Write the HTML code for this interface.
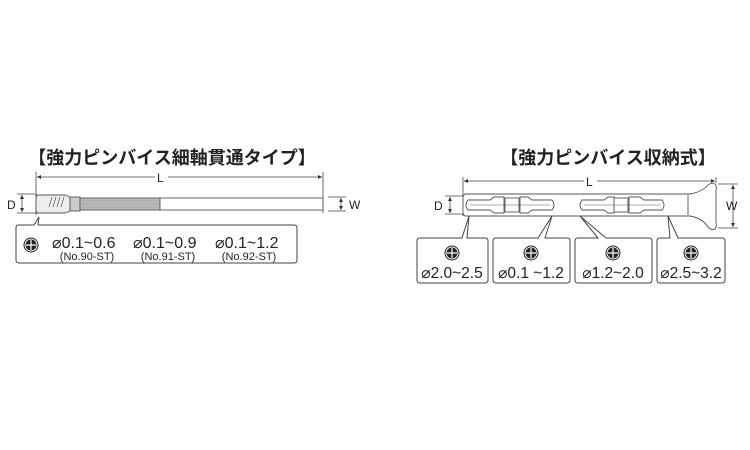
<!DOCTYPE html>
<html><head><meta charset="utf-8"><style>
html,body{margin:0;padding:0;background:#fff;width:750px;height:450px;overflow:hidden}
svg{display:block}
text{font-family:"Liberation Sans","Noto Sans CJK JP",sans-serif;fill:#222}
</style></head><body>
<svg width="750" height="450" viewBox="0 0 750 450" xmlns="http://www.w3.org/2000/svg">
<defs>
<marker id="a" viewBox="0 0 6 6" refX="6" refY="3" markerWidth="5" markerHeight="5" orient="auto-start-reverse"><path d="M0,0L6,3L0,6z" fill="#333"/></marker>
<g id="ph"><circle r="7" fill="#fff" stroke="#222" stroke-width="1"/><circle r="5.5" fill="#222"/><path d="M-5,0H5M0,-5V5" stroke="#fff" stroke-width="1.2"/></g>
</defs>
<!-- LEFT -->
<text x="172" y="164" font-size="18" font-weight="bold" text-anchor="middle">【強力ピンバイス細軸貫通タイプ】</text>
<g stroke="#444" stroke-width="0.8" fill="none">
<path d="M36,172V215M323,172V213"/>
<line x1="37" y1="177" x2="155" y2="177" marker-start="url(#a)"/>
<line x1="168" y1="177" x2="322" y2="177" marker-end="url(#a)"/>
<path d="M17,194H36M17,213H36"/>
<line x1="22" y1="195" x2="22" y2="212" marker-start="url(#a)" marker-end="url(#a)"/>
<path d="M328,197H346M328,211H346"/>
<line x1="341" y1="198" x2="341" y2="210" marker-start="url(#a)" marker-end="url(#a)"/>
</g>
<text x="7" y="209" font-size="12">D</text>
<text x="349" y="209" font-size="12">W</text>
<text x="157" y="182" font-size="12">L</text>
<g stroke="#555" stroke-width="0.9">
<path d="M37,195H65L70,197V211L65,213H37L36,210V198Z" fill="#eee"/>
<rect x="70" y="197" width="10" height="14" fill="#ccc"/>
<path d="M52,197l-3,10M56,197l-3,10M60,197l-3,10M64,197l-3,10" stroke-width="0.7"/>
<rect x="80" y="198" width="80" height="12" fill="#bbb"/>
<path d="M80,201H160M80,204H160M80,207H160" stroke="#999" stroke-width="0.5"/>
<rect x="160" y="198" width="163" height="12" fill="#fff"/>
</g>
<path d="M18,225H34L39,217L38,225H294Q297,225 297,228V260Q297,263 294,263H19Q16,263 16,260V228Q16,225 18,225Z" fill="#fff" stroke="#444" stroke-width="1"/>
<use href="#ph" x="31" y="245"/>
<text x="52" y="248" font-size="16">⌀0.1~0.6</text>
<text x="133" y="248" font-size="16">⌀0.1~0.9</text>
<text x="215" y="248" font-size="16">⌀0.1~1.2</text>
<text x="87" y="260" font-size="11" text-anchor="middle">(No.90-ST)</text>
<text x="168" y="260" font-size="11" text-anchor="middle">(No.91-ST)</text>
<text x="249" y="260" font-size="11" text-anchor="middle">(No.92-ST)</text>
<!-- RIGHT -->
<text x="608" y="164" font-size="18" font-weight="bold" text-anchor="middle">【強力ピンバイス収納式】</text>
<g stroke="#444" stroke-width="0.8" fill="none">
<path d="M463,177V216M716,177V183"/>
<line x1="464" y1="181" x2="584" y2="181" marker-start="url(#a)"/>
<line x1="597" y1="181" x2="715" y2="181" marker-end="url(#a)"/>
<path d="M445,196H463M445,214H463"/>
<line x1="450" y1="197" x2="450" y2="213" marker-start="url(#a)" marker-end="url(#a)"/>
<path d="M718,184H738M718,228H738"/>
<line x1="733" y1="185" x2="733" y2="227" marker-start="url(#a)" marker-end="url(#a)"/>
</g>
<text x="434" y="210" font-size="12">D</text>
<text x="726" y="210" font-size="12">W</text>
<text x="586" y="186" font-size="12">L</text>
<g stroke="#555" stroke-width="0.9" fill="#fff">
<path d="M466,194H690Q702,192 708,185Q712,182 715,184Q717,186 716,190V222Q717,227 715,229Q712,231 708,227Q702,218 690,216H466Q463,216 463,212V198Q463,194 466,194Z"/>
<path d="M688,195V215"/>
<path d="M468,200H490L494,197H504V213H494L490,210H468Q464,205 468,200Z"/>
<rect x="505" y="198" width="14" height="14"/>
<path d="M520,197H528L532,200H552Q556,205 552,210H532L528,213H520Z"/>
<path d="M582,200H604L608,197H614V213H608L604,210H582Q578,205 582,200Z"/>
<rect x="614" y="198" width="14" height="14"/>
<path d="M629,197H640L644,200H662Q666,205 662,210H644L640,213H629Z"/>
<path d="M470,205H550M584,205H660" stroke-width="0.5"/>
</g>
<g fill="#fff" stroke="#444" stroke-width="1">
<path d="M420,238H462L469,216L467,238H485Q488,238 488,241V280Q488,283 485,283H420Q417,283 417,280V241Q417,238 420,238Z"/>
<path d="M496,238H538L552,216L545,238H567Q570,238 570,241V280Q570,283 567,283H496Q493,283 493,280V241Q493,238 496,238Z"/>
<path d="M578,238H598L580,216L606,238H649Q652,238 652,241V280Q652,283 649,283H578Q575,283 575,280V241Q575,238 578,238Z"/>
<path d="M660,238H670L668,216L678,238H722Q725,238 725,241V280Q725,283 722,283H660Q657,283 657,280V241Q657,238 660,238Z"/>
</g>
<use href="#ph" x="452" y="253"/>
<use href="#ph" x="531" y="253"/>
<use href="#ph" x="613" y="253"/>
<use href="#ph" x="691" y="253"/>
<text x="452" y="278" font-size="15.5" text-anchor="middle">⌀2.0~2.5</text>
<text x="531" y="278" font-size="15.5" text-anchor="middle">⌀0.1 ~1.2</text>
<text x="613" y="278" font-size="15.5" text-anchor="middle">⌀1.2~2.0</text>
<text x="691" y="278" font-size="15.5" text-anchor="middle">⌀2.5~3.2</text>
</svg>
</body></html>
